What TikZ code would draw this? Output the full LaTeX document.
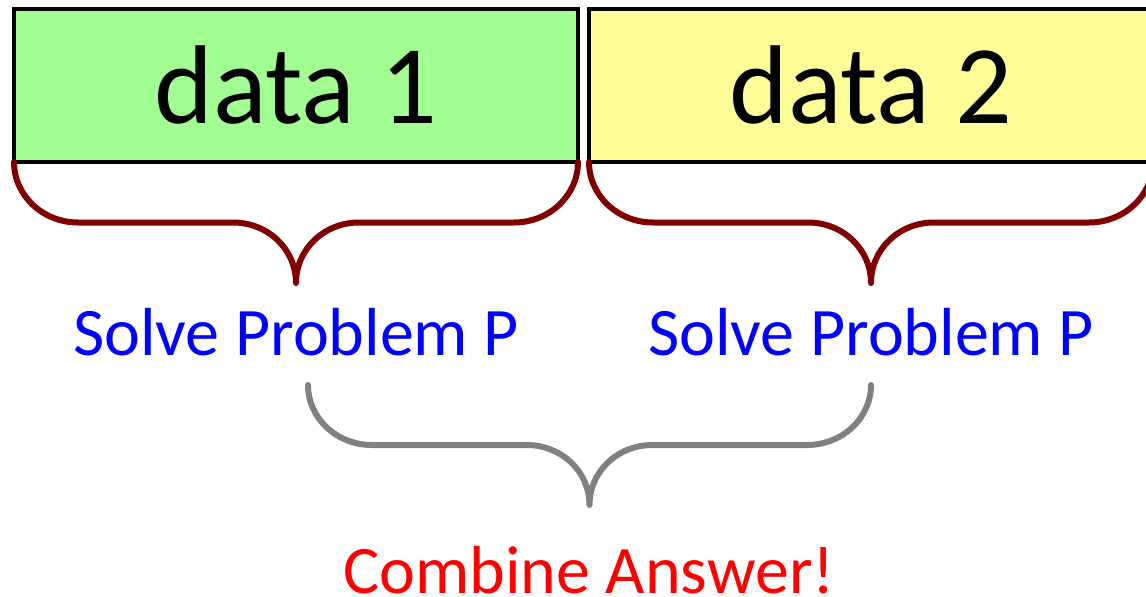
\documentclass[tikz,border=0pt]{standalone}
\usepackage{fontspec}
\setmainfont{Carlito}
\definecolor{boxgreen}{HTML}{A2FE92}
\definecolor{boxyellow}{HTML}{FFFE99}
\definecolor{bracered}{HTML}{800000}
\definecolor{bracegrey}{HTML}{808080}
\definecolor{labelblue}{HTML}{0000FF}
\definecolor{labelred}{HTML}{FF0000}
\tikzset{
  databox/.style={draw=black, line width=4pt, minimum width=564pt, minimum height=153pt,
    inner sep=0pt, font=\fontsize{112}{130}\selectfont},
  solvelabel/.style={anchor=base, text=labelblue, inner sep=0pt, font=\fontsize{68}{80}\selectfont},
  combinelabel/.style={anchor=base, text=labelred, inner sep=0pt, font=\fontsize{68}{80}\selectfont},
  bracestyle/.style={line width=6pt, line cap=round, line join=round},
}
% #1 style, #2 left x, #3 right x, #4 top y, #5 half height
\newcommand\drawmybrace[5]{%
  \pgfmathsetmacro\bxm{(#2+#3)/2}%
  \pgfmathsetmacro\bh{#5}%
  \pgfmathsetmacro\bk{0.552*#5}%
  \pgfmathsetmacro\br{0.552*64}%
  \draw[#1] (#2,#4) .. controls +(0,\bk) and +(-\br,0) .. (#2+64,#4+\bh)
     -- (\bxm-63,#4+\bh) .. controls +(\br,0) and +(0,-\bk) .. (\bxm,#4+2*\bh)
     .. controls +(0,-\bk) and +(-\br,0) .. (\bxm+63,#4+\bh)
     -- (#3-64,#4+\bh) .. controls +(\br,0) and +(0,\bk) .. (#3,#4);
}
\begin{document}
\begin{tikzpicture}[x=1pt,y=-1pt]
\useasboundingbox (0,0) rectangle (1146,597);
\clip (0,0) rectangle (1146,597);
\node[databox, fill=boxgreen] (d1) at (296,85.5) {data 1};
\node[databox, fill=boxyellow] (d2) at (871,85.5) {data 2};
\node[solvelabel] (s1) at (296,355) {Solve Problem P};
\node[solvelabel] (s2) at (871,355) {Solve Problem P};
\node[combinelabel] (c) at (589,593) {Combine Answer!};
\drawmybrace{bracestyle, draw=bracered}{14}{578}{162}{60.5}
\drawmybrace{bracestyle, draw=bracered}{589}{1153}{162}{60.5}
\drawmybrace{bracestyle, draw=bracegrey}{308}{871}{385}{60}
\end{tikzpicture}
\end{document}
